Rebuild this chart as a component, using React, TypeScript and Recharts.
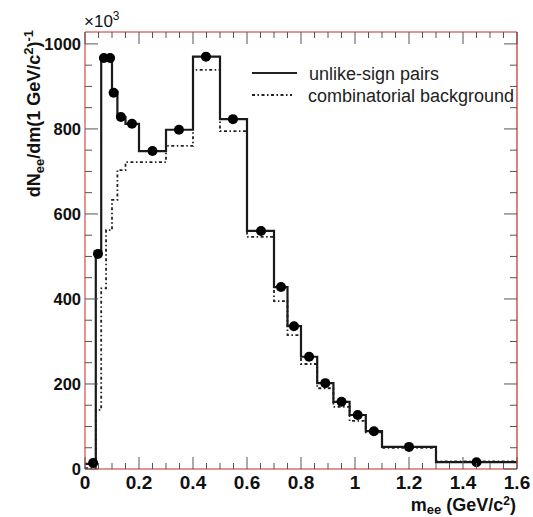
import React from 'react';
import { ComposedChart, Line, Scatter, XAxis, YAxis, Legend } from 'recharts';

// Data histogram (unlike-sign pairs), units of 10^3
const dataEdges = [0, 0.04, 0.06, 0.08, 0.10, 0.12, 0.15, 0.2, 0.3, 0.4, 0.5, 0.6, 0.7, 0.75, 0.8, 0.86, 0.92, 0.98, 1.04, 1.1, 1.3, 1.6];
const dataValues = [12, 506, 967, 967, 887, 828, 812, 748, 798, 970, 823, 560, 428, 336, 264, 202, 158, 127, 89, 52, 16];
const pointX = [0.03, 0.048, 0.07, 0.093, 0.106, 0.133, 0.174, 0.25, 0.348, 0.448, 0.548, 0.652, 0.726, 0.774, 0.83, 0.89, 0.95, 1.01, 1.07, 1.2, 1.45];
const pointY = [14, 506, 967, 967, 885, 828, 812, 748, 798, 970, 823, 560, 428, 336, 264, 202, 158, 127, 89, 52, 16];

// Combinatorial background histogram
const bgEdges = [0, 0.04, 0.06, 0.078, 0.1, 0.12, 0.15, 0.3, 0.4, 0.5, 0.6, 0.7, 0.75, 0.8, 0.86, 0.92, 0.98, 1.04, 1.1, 1.3, 1.6];
const bgValues = [2, 139, 425, 562, 633, 703, 722, 760, 939, 795, 546, 395, 315, 247, 190, 146, 113, 86, 50, 18];

const xMajorLabels = ['0', '0.2', '0.4', '0.6', '0.8', '1', '1.2', '1.4', '1.6'];
const yMajorLabels = ['0', '200', '400', '600', '800', '1000'];

const FONT = '"Liberation Sans", Arial, Helvetica, sans-serif';
const RED = '#c62828';
const TICK = '#555';
const BG_DASH = '3 2.5 1.5 2.5';

const toSteps = (edges: number[], vals: number[]) => {
  const out = vals.map((v, i) => ({ x: edges[i], y: v }));
  out.push({ x: edges[edges.length - 1], y: vals[vals.length - 1] });
  return out;
};
const dataSteps = toSteps(dataEdges, dataValues);
const bgSteps = toSteps(bgEdges, bgValues);
const points = pointX.map((x, i) => ({ x, y: pointY[i] }));

const xTicks: number[] = [];
for (let i = 0; i <= 32; i++) xTicks.push(Math.round(i * 5) / 100);
const yTicks: number[] = [];
for (let i = 0; i <= 20; i++) yTicks.push(i * 50);

const isXMajor = (v: number) => Math.abs(Math.round(v * 100) % 20) === 0;
const isYMajor = (v: number) => v % 200 === 0;

const XTickBottom = (props: any) => {
  const { x, y, payload } = props;
  const major = isXMajor(payload.value);
  const idx = Math.round(payload.value * 5);
  return (
    <g>
      <line x1={x} x2={x} y1={y} y2={y - (major ? 12 : 6)} stroke={TICK} strokeWidth={1} />
      {major && (
        <text x={x} y={y + 20} textAnchor="middle" fontFamily={FONT} fontWeight="bold" fontSize={19} fill="#111">
          {xMajorLabels[idx]}
        </text>
      )}
    </g>
  );
};

const XTickTop = (props: any) => {
  const { x, y, payload } = props;
  const major = isXMajor(payload.value);
  return <line x1={x} x2={x} y1={y} y2={y + (major ? 12 : 6)} stroke={TICK} strokeWidth={1} />;
};

const YTickLeft = (props: any) => {
  const { x, y, payload } = props;
  const major = isYMajor(payload.value);
  const idx = Math.round(payload.value / 200);
  return (
    <g>
      <line x1={x} x2={x + (major ? 13 : 7)} y1={y} y2={y} stroke={TICK} strokeWidth={1} />
      {major && (
        <text x={x - 4} y={y + 6} textAnchor="end" fontFamily={FONT} fontWeight="bold" fontSize={16.5} fill="#111">
          {yMajorLabels[idx]}
        </text>
      )}
    </g>
  );
};

const YTickRight = (props: any) => {
  const { x, y, payload } = props;
  const major = isYMajor(payload.value);
  return <line x1={x} x2={x - (major ? 13 : 7)} y1={y} y2={y} stroke={TICK} strokeWidth={1} />;
};

const YTitle = () => (
  <g>
    <text
      x={40}
      y={30}
      transform="rotate(-90, 40, 30)"
      textAnchor="end"
      fontFamily={FONT}
      fontWeight="bold"
      fontSize={18}
      fill="#111"
    >
      <tspan>dN</tspan>
      <tspan fontSize={13} dy={4}>ee</tspan>
      <tspan dy={-4}>/dm(1 GeV/c</tspan>
      <tspan fontSize={13} dy={-7}>2</tspan>
      <tspan dy={7}>)</tspan>
      <tspan fontSize={13} dy={-7}>-1</tspan>
    </text>
    <text x={84} y={27} fontFamily={FONT} fontSize={17} fill="#111">
      <tspan>×10</tspan>
      <tspan fontSize={12} dy={-7}>3</tspan>
    </text>
  </g>
);

const XTitle = () => (
  <text x={516} y={511} textAnchor="end" fontFamily={FONT} fontWeight="bold" fontSize={18} fill="#111">
    <tspan>m</tspan>
    <tspan fontSize={13} dy={3}>ee</tspan>
    <tspan dy={-3}> (GeV/c</tspan>
    <tspan fontSize={12} dy={-6}>2</tspan>
    <tspan dy={6}>)</tspan>
  </text>
);

const LegendContent = () => (
  <svg width={275} height={46} style={{ display: 'block' }}>
    <line x1={2} x2={47} y1={13} y2={13} stroke="#222" strokeWidth={2} />
    <text x={59} y={19.5} fontFamily={FONT} fontSize={18} fill="#222">unlike-sign pairs</text>
    <line x1={2} x2={42} y1={35} y2={35} stroke="#222" strokeWidth={1.8} strokeDasharray={BG_DASH} />
    <text x={58} y={41.5} fontFamily={FONT} fontSize={18} fill="#222">combinatorial background</text>
  </svg>
);

export default function App() {
  return (
    <div style={{ position: 'absolute', left: 0, top: 0, width: 533, height: 517, background: '#fff' }}>
      <ComposedChart width={533} height={517} margin={{ top: 31, right: 15, bottom: 0, left: 0 }}>
        <XAxis
          xAxisId={0}
          dataKey="x"
          type="number"
          domain={[0, 1.6]}
          ticks={xTicks}
          interval={0}
          height={48}
          tickSize={0}
          tickMargin={0}
          tick={<XTickBottom />}
          axisLine={{ stroke: RED, strokeWidth: 1 }}
          tickLine={false}
          allowDataOverflow
          label={<XTitle />}
        />
        <XAxis
          xAxisId="top"
          orientation="top"
          dataKey="x"
          type="number"
          domain={[0, 1.6]}
          ticks={xTicks}
          interval={0}
          height={1}
          tickSize={0}
          tickMargin={0}
          tick={<XTickTop />}
          axisLine={{ stroke: RED, strokeWidth: 1 }}
          tickLine={false}
          allowDataOverflow
        />
        <YAxis
          yAxisId={0}
          dataKey="y"
          type="number"
          domain={[0, 1028]}
          ticks={yTicks}
          interval={0}
          width={85}
          tickSize={0}
          tickMargin={0}
          tick={<YTickLeft />}
          axisLine={{ stroke: RED, strokeWidth: 1 }}
          tickLine={false}
          allowDataOverflow
          label={<YTitle />}
        />
        <YAxis
          yAxisId="right"
          orientation="right"
          dataKey="y"
          type="number"
          domain={[0, 1028]}
          ticks={yTicks}
          interval={0}
          width={1}
          tickSize={0}
          tickMargin={0}
          tick={<YTickRight />}
          axisLine={{ stroke: RED, strokeWidth: 1.2 }}
          tickLine={false}
          allowDataOverflow
        />
        <Line
          data={bgSteps}
          dataKey="y"
          type="stepAfter"
          stroke="#222"
          strokeWidth={1.8}
          strokeDasharray={BG_DASH}
          dot={false}
          activeDot={false}
          isAnimationActive={false}
          legendType="none"
        />
        <Line
          data={dataSteps}
          dataKey="y"
          type="stepAfter"
          stroke="#1a1a1a"
          strokeWidth={2.2}
          dot={false}
          activeDot={false}
          isAnimationActive={false}
          legendType="none"
        />
        <Scatter
          xAxisId="top"
          yAxisId="right"
          data={points}
          dataKey="y"
          fill="#000"
          isAnimationActive={false}
          shape={(p: any) => <circle cx={p.cx} cy={p.cy} r={5} fill="#000" />}
          legendType="none"
        />
        <Legend
          layout="vertical"
          verticalAlign="middle"
          align="center"
          content={<LegendContent />}
          wrapperStyle={{ position: 'absolute', left: 250, top: 60, width: 275, height: 46 }}
        />
      </ComposedChart>
    </div>
  );
}
